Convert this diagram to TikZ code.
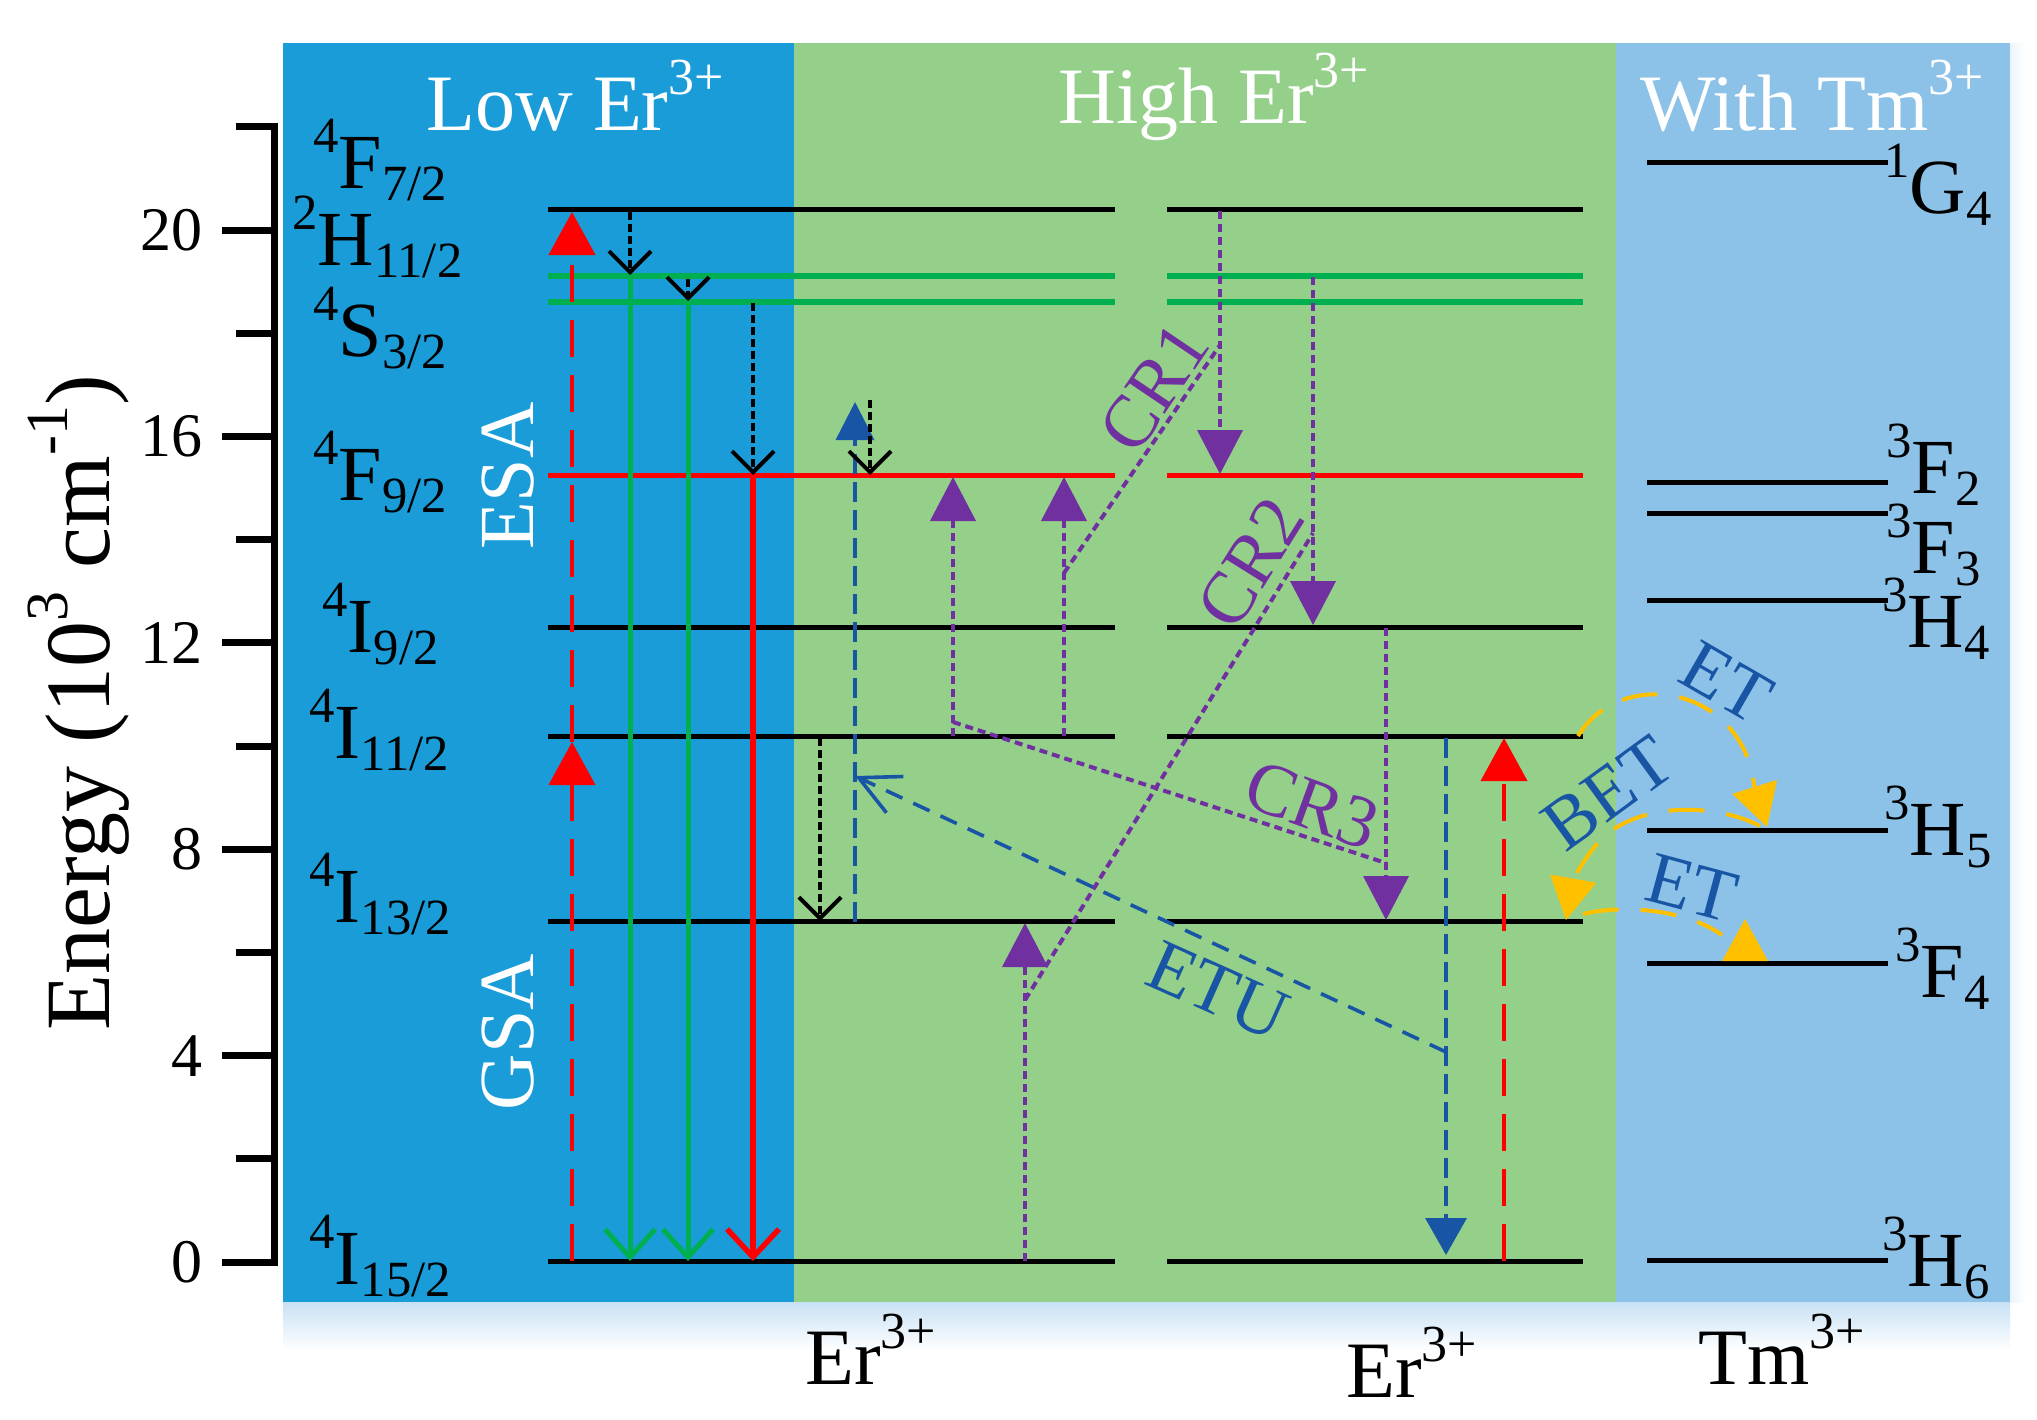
\documentclass[tikz,border=0pt]{standalone}
\usepackage{fontspec}
\setmainfont{Liberation Serif}
\usepackage{graphicx}
\usetikzlibrary{arrows.meta}
\definecolor{lowblue}{RGB}{26,156,216}
\definecolor{highgreen}{RGB}{149,208,138}
\definecolor{tmblue}{RGB}{141,194,232}
\definecolor{lvgreen}{RGB}{0,176,80}
\definecolor{pur}{RGB}{112,48,160}
\definecolor{dblue}{RGB}{25,85,165}
\definecolor{yel}{RGB}{255,192,0}
\definecolor{shadowblue}{RGB}{200,225,245}
\newcommand\sps[1]{\raisebox{0.45em}{\scalebox{0.65}{#1}}}
\newcommand\sbs[1]{\raisebox{-0.16em}{\scalebox{0.65}{#1}}}
\begin{document}
\begin{tikzpicture}[x=0.5pt,y=-0.5pt,
  lvl/.style={line width=2.5pt},
  greenlvl/.style={lvgreen,line width=3pt},
  redlvl/.style={red,line width=2.3pt},
  relax/.style={black,line width=2pt,dash pattern=on 4pt off 2pt,-{Straight Barb[length=10.5pt,width=21pt,line width=2pt]}},
  greenarr/.style={lvgreen,line width=2.5pt,-{Straight Barb[length=14pt,width=25pt,line width=2.5pt]}},
  redarr/.style={red,line width=2.7pt,-{Straight Barb[length=14pt,width=26pt,line width=2.7pt]}},
  reddash/.style={red,line width=2pt,dash pattern=on 18.5pt off 9pt,-{Triangle[length=21.5pt,width=23pt]}},
  purarr/.style={pur,line width=2pt,dash pattern=on 4pt off 2.5pt,-{Triangle[length=22pt,width=22.5pt]}},
  purline/.style={pur,line width=2pt,dash pattern=on 4pt off 2.5pt},
  blueup/.style={dblue,line width=1.8pt,dash pattern=on 10pt off 4pt,-{Triangle[length=19pt,width=19pt]}},
  bluedown/.style={dblue,line width=1.8pt,dash pattern=on 10pt off 4pt,-{Triangle[length=18.5pt,width=20.5pt]}},
  etuarr/.style={dblue,line width=1.8pt,dash pattern=on 9pt off 6pt,-{Straight Barb[length=20pt,width=20pt,line width=1.8pt]}},
  yelarr/.style={yel,line width=2pt,dash pattern=on 18pt off 11pt,-{Triangle[length=21pt,width=23pt]}},
  yelline/.style={yel,line width=2pt,dash pattern=on 18pt off 11pt},
  lab/.style={anchor=base west,inner sep=0pt,font=\fontsize{39}{44}\selectfont},
  title/.style={anchor=base west,inner sep=0pt,text=white,font=\fontsize{40}{46}\selectfont},
  bottom/.style={anchor=base west,inner sep=0pt,font=\fontsize{40}{46}\selectfont},
  proc/.style={inner sep=0pt,font=\fontsize{37}{42}\selectfont},
  ticklab/.style={anchor=east,inner sep=0pt,font=\fontsize{31}{36}\selectfont},
  axtick/.style={line width=3.5pt}
]
\useasboundingbox (0,0) rectangle (2037,1419);
\fill[white] (0,0) rectangle (2037,1419);
% shadows
\shade[top color=shadowblue,bottom color=white] (283,1302) rectangle (2010,1350);
\shade[left color=shadowblue!35!white,right color=white] (2010,43) rectangle (2026,1302);
% panels
\fill[lowblue] (283,43) rectangle (794,1302);
\fill[highgreen] (794,43) rectangle (1616,1302);
\fill[tmblue] (1616,43) rectangle (2010,1302);

% axis
\draw[axtick,line cap=rect] (274,126.8) -- (274,1262);
\foreach \v in {0,4,8,12,16,20}{
  \draw[axtick] (222,{1262-51.6*\v}) -- (274,{1262-51.6*\v});
  \node[ticklab] (tick\v) at (203,{1262-51.6*\v}) {\v};
}
\foreach \v in {2,6,10,14,18,22}{
  \draw[axtick] (236,{1262-51.6*\v}) -- (274,{1262-51.6*\v});
}
\node[rotate=90,anchor=base,inner sep=0pt,font=\fontsize{46}{52}\selectfont] (ylabel) at (109,703) {Energy (10\sps{3} cm\sps{-1})};

% titles
\node[title] (tlow) at (426,130) {Low Er\sps{3+}};
\node[title] (thigh) at (1058,123) {High Er\sps{3+}};
\node[title] (ttm) at (1640,130) {With Tm\sps{3+}};
\node[bottom] (ber1) at (805,1384) {Er\sps{3+}};
\node[bottom] (ber2) at (1346,1397) {Er\sps{3+}};
\node[bottom] (btm) at (1698,1384) {Tm\sps{3+}};
\node[rotate=90,inner sep=0pt,text=white,font=\fontsize{39}{44}\selectfont] (esa) at (508,476) {ESA};
\node[rotate=90,inner sep=0pt,text=white,font=\fontsize{39}{44}\selectfont] (gsa) at (508,1032) {GSA};

% Er levels, column A and B
\foreach \xa/\xb in {548/1115,1167/1583}{
  \draw[lvl] (\xa,209) -- (\xb,209);
  \draw[greenlvl] (\xa,275.5) -- (\xb,275.5);
  \draw[greenlvl] (\xa,301.5) -- (\xb,301.5);
  \draw[redlvl] (\xa,475.5) -- (\xb,475.5);
  \draw[lvl] (\xa,627) -- (\xb,627);
  \draw[lvl] (\xa,736.5) -- (\xb,736.5);
  \draw[lvl] (\xa,921.5) -- (\xb,921.5);
  \draw[lvl] (\xa,1261) -- (\xb,1261);
}
% Tm levels
\foreach \y in {162.3,482.3,513.3,600.7,830,963.3,1260.7}{
  \draw[lvl] (1647,\y) -- (1888,\y);
}

% Er labels
\node[lab] (lF72) at (313,188) {\sps{4}F\sbs{7/2}};
\node[lab] (lH112) at (292,265) {\sps{2}H\sbs{11/2}};
\node[lab] (lS32) at (313,356) {\sps{4}S\sbs{3/2}};
\node[lab] (lF92) at (313,500) {\sps{4}F\sbs{9/2}};
\node[lab] (lI92) at (322,652) {\sps{4}I\sbs{9/2}};
\node[lab] (lI112) at (309,758) {\sps{4}I\sbs{11/2}};
\node[lab] (lI132) at (309,922) {\sps{4}I\sbs{13/2}};
\node[lab] (lI152) at (309,1284) {\sps{4}I\sbs{15/2}};
% Tm labels
\node[lab] (lG4) at (1884,213) {\sps{1}G\sbs{4}};
\node[lab] (lF2) at (1886,493) {\sps{3}F\sbs{2}};
\node[lab] (lF3) at (1886,573) {\sps{3}F\sbs{3}};
\node[lab] (lH4) at (1882,647) {\sps{3}H\sbs{4}};
\node[lab] (lH5) at (1884,855) {\sps{3}H\sbs{5}};
\node[lab] (lF4) at (1895,997) {\sps{3}F\sbs{4}};
\node[lab] (lH6) at (1882,1286) {\sps{3}H\sbs{6}};

% coordinates of transitions
\coordinate (rA0) at (572,1261); \coordinate (rA1) at (572,742); \coordinate (rA2) at (572,212);
\coordinate (k1a) at (630,212); \coordinate (k1b) at (630,275);
\coordinate (g1) at (630,1261);
\coordinate (k2a) at (688,279); \coordinate (k2b) at (688,301);
\coordinate (g2) at (688,1261);
\coordinate (k3a) at (753,303); \coordinate (k3b) at (753,475);
\coordinate (r3) at (753,1261);
\coordinate (b1a) at (855,922); \coordinate (b1b) at (855,402);
\coordinate (k4a) at (870,400); \coordinate (k4b) at (870,475);
\coordinate (k5a) at (820,738); \coordinate (k5b) at (820,921);
\coordinate (p1a) at (953,736); \coordinate (p1b) at (953,477);
\coordinate (p2a) at (1064,736); \coordinate (p2b) at (1064,477);
\coordinate (p3a) at (1025,1261); \coordinate (p3b) at (1025,923);
\coordinate (p4a) at (1220,211); \coordinate (p4b) at (1220,474);
\coordinate (p5a) at (1313,277); \coordinate (p5b) at (1313,625);
\coordinate (p6a) at (1386,628); \coordinate (p6b) at (1386,920);
\coordinate (c1a) at (1064,573); \coordinate (c1b) at (1220,345);
\coordinate (c2a) at (1025,1000); \coordinate (c2b) at (1313,533);
\coordinate (c3a) at (953,722); \coordinate (c3b) at (1386,863);
\coordinate (e1) at (1446,1052); \coordinate (e2) at (855,776);
\coordinate (b2a) at (1446,738); \coordinate (b2b) at (1446,1255);
\coordinate (r4a) at (1504,1261); \coordinate (r4b) at (1504,738);
\coordinate (y1a) at (1578,736); \coordinate (y1m) at (1682,698); \coordinate (y1n) at (1754,785); \coordinate (y1b) at (1767,827);
\coordinate (y2a) at (1760,826); \coordinate (y2m) at (1607,834); \coordinate (y2b) at (1566,920);
\coordinate (y3a) at (1583,914); \coordinate (y3b) at (1722,935);

% Low Er transitions
\draw[reddash] (rA0) -- (rA1);
\draw[reddash] (rA1) -- (rA2);
\draw[relax] (k1a) -- (k1b);
\draw[greenarr] (k1b) -- (g1);
\draw[relax] (k2a) -- (k2b);
\draw[greenarr] (k2b) -- (g2);
\draw[relax] (k3a) -- (k3b);
\draw[redarr] (k3b) -- (r3);
\draw[blueup] (b1a) -- (b1b);
\draw[relax] (k4a) -- (k4b);
\draw[relax] (k5a) -- (k5b);

% cross relaxation
\draw[purarr] (p1a) -- (p1b);
\draw[purarr] (p2a) -- (p2b);
\draw[purarr] (p3a) -- (p3b);
\draw[purarr] (p4a) -- (p4b);
\draw[purarr] (p5a) -- (p5b);
\draw[purarr] (p6a) -- (p6b);
\draw[purline] (c1a) -- (c1b);
\draw[purline] (c2a) -- (c2b);
\draw[purline] (c3a) -- (c3b);

% ETU
\draw[etuarr] (e1) -- (e2);
\draw[bluedown] (b2a) -- (b2b);
\draw[reddash] (r4a) -- (r4b);

% ET / BET
\draw[yelarr] (y1a) .. controls (1599,701) and (1642,687) .. (y1m) .. controls (1722,709) and (1750,744) .. (y1n) -- (y1b);
\draw[yelarr] (y2a) .. controls (1722,806) and (1650,800) .. (y2m) .. controls (1588,850) and (1573,880) .. (y2b);
\draw[yelline] (y3a) .. controls (1630,903) and (1690,912) .. (y3b);
\fill[yel] (1722,961) -- (1768,961) -- (1745,919) -- cycle;

% process labels
\node[proc,text=pur,rotate=56] (cr1) at (1154,388) {CR1};
\node[proc,text=pur,rotate=58] (cr2) at (1251,563) {CR2};
\node[proc,text=pur,rotate=-20] (cr3) at (1312,805) {CR3};
\node[proc,text=dblue,rotate=-24] (etu) at (1218,991) {ETU};
\node[proc,text=dblue,rotate=-30] (et1) at (1727,682) {ET};
\node[proc,text=dblue,rotate=36] (bet) at (1608,793) {BET};
\node[proc,text=dblue,rotate=-15] (et2) at (1692,888) {ET};
\end{tikzpicture}
\end{document}
